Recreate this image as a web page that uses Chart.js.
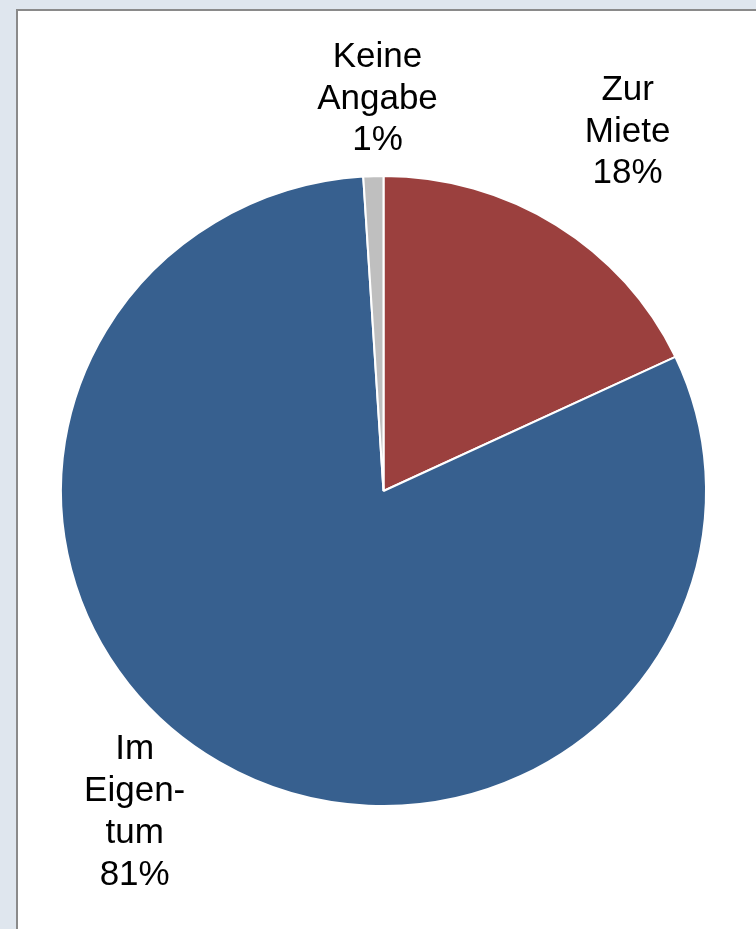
<!DOCTYPE html>
<html>
<head>
<meta charset="utf-8">
<script src="https://cdn.jsdelivr.net/npm/chart.js@4"></script>
<style>
    html, body {
        margin: 0;
        padding: 0;
        width: 756px;
        height: 929px;
        overflow: hidden;
        background: #dfe6ee;
    }
    .panel {
        position: absolute;
        left: 16px;
        top: 9px;
        width: 760px;
        height: 940px;
        background: #ffffff;
        border-left: 2px solid #8a8a8a;
        border-top: 2px solid #8a8a8a;
    }
    .chart-wrap {
        position: absolute;
        left: 0;
        top: 0;
        width: 756px;
        height: 929px;
    }
</style>
</head>
<body>
<div class="panel"></div>
<div class="chart-wrap">
    <canvas id="pieChart"></canvas>
</div>
<script>
// Wohnsituation: Anteile in Prozent
const categories = [['Zur', 'Miete'], ['Im', 'Eigen-', 'tum'], ['Keine', 'Angabe']];
const values = [18, 81, 1];
const colors = ['#9b403e', '#37608f', '#bfbfbf'];

// label placement around the pie (extra angle in degrees, distance as multiple of radius)
const labelPlacement = [
    { da: 1.0, dist: 1.375 },
    { da: 6.7, dist: 1.273 },
    { da: 0.95, dist: 1.253 }
];

const stretchX = 1.024; // the reference pie is a little wider than tall

const stretchPlugin = {
    id: 'stretchPie',
    beforeDatasetsDraw(chart) {
        const arc = chart.getDatasetMeta(0).data[0];
        const ctx = chart.ctx;
        ctx.save();
        ctx.translate(arc.x, arc.y);
        ctx.scale(stretchX, 1);
        ctx.translate(-arc.x, -arc.y);
    },
    afterDatasetsDraw(chart) {
        chart.ctx.restore();
    }
};

const outsideLabels = {
    id: 'outsideLabels',
    afterDraw(chart) {
        const ctx = chart.ctx;
        const meta = chart.getDatasetMeta(0);
        ctx.save();
        ctx.font = '35px "Liberation Sans", Arial, sans-serif';
        ctx.fillStyle = '#000000';
        ctx.textAlign = 'center';
        ctx.textBaseline = 'middle';
        const lineHeight = 41.8;
        meta.data.forEach((arc, i) => {
            const mid = (arc.startAngle + arc.endAngle) / 2 + labelPlacement[i].da * Math.PI / 180;
            const r = arc.outerRadius * labelPlacement[i].dist;
            const x = arc.x + Math.cos(mid) * r * stretchX;
            const y = arc.y + Math.sin(mid) * r + 2.5;
            const lines = categories[i].concat([values[i] + '%']);
            const top = y - (lines.length - 1) * lineHeight / 2;
            lines.forEach((line, j) => {
                ctx.fillText(line, x, top + j * lineHeight);
            });
        });
        ctx.restore();
    }
};

const ctx = document.getElementById('pieChart').getContext('2d');
new Chart(ctx, {
    type: 'pie',
    data: {
        labels: categories.map(c => c.join(' ')),
        datasets: [{
            data: values,
            backgroundColor: colors,
            borderColor: '#ffffff',
            borderWidth: 2
        }]
    },
    options: {
        responsive: true,
        maintainAspectRatio: false,
        animation: false,
        radius: 315,
        layout: {
            padding: { left: 11, right: 0, top: 53, bottom: 0 }
        },
        events: [],
        plugins: {
            legend: { display: false },
            tooltip: { enabled: false }
        }
    },
    plugins: [stretchPlugin, outsideLabels]
});
</script>
</body>
</html>
